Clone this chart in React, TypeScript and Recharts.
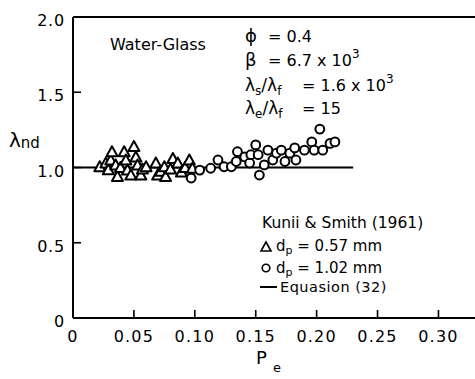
import React from 'react';
import { ScatterChart, Scatter, XAxis, YAxis, ReferenceLine } from 'recharts';

// d_p = 0.57 mm (triangles)
const triX = [0.022, 0.027, 0.029, 0.031, 0.032, 0.035, 0.0365, 0.039, 0.042, 0.0434, 0.0447, 0.0475, 0.05, 0.0516, 0.053, 0.0557, 0.057, 0.06, 0.068, 0.0695, 0.072, 0.075, 0.076, 0.08, 0.082, 0.086, 0.089, 0.092, 0.0955, 0.098];
const triY = [1.005, 1.03, 0.985, 1.05, 1.105, 1.017, 0.94, 1.0, 1.105, 1.05, 0.983, 0.95, 1.14, 1.07, 1.017, 0.95, 0.99, 1.005, 1.03, 0.95, 0.975, 1.005, 0.94, 0.99, 1.06, 1.03, 0.97, 1.0, 1.05, 0.995];

// d_p = 1.02 mm (circles)
const circX = [0.097, 0.104, 0.113, 0.119, 0.124, 0.13, 0.134, 0.135, 0.141, 0.145, 0.146, 0.15, 0.152, 0.153, 0.157, 0.16, 0.164, 0.167, 0.171, 0.174, 0.178, 0.182, 0.183, 0.19, 0.196, 0.198, 0.2026, 0.205, 0.211, 0.215];
const circY = [0.93, 0.983, 0.995, 1.05, 1.005, 1.005, 1.04, 1.105, 1.07, 1.03, 1.085, 1.15, 1.085, 0.95, 1.017, 1.115, 1.05, 1.095, 1.115, 1.04, 1.095, 1.13, 1.05, 1.115, 1.17, 1.115, 1.255, 1.115, 1.16, 1.17];

// Equation (32)
const eqX = [0, 0.23];
const eqY = [1.0, 1.0];

const xTicks = [0, 0.05, 0.1, 0.15, 0.2, 0.25, 0.3];
const xTickLabels = ['0', '0.05', '0.10', '0.15', '0.20', '0.25', '0.30'];
const yTicks = [0, 0.5, 1, 1.5, 2];
const yTickLabels = ['0', '0.5', '1.0', '1.5', '2.0'];

const triData = triX.map((x, i) => ({ x, y: triY[i] }));
const circData = circX.map((x, i) => ({ x, y: circY[i] }));
const eqData = eqX.map((x, i) => ({ x, y: eqY[i] }));

const FONT = '"DejaVu Sans", sans-serif';

const Triangle = ({ cx, cy }: any) => (
  <polygon
    points={`${cx},${cy - 5.5} ${cx - 5.5},${cy + 4.5} ${cx + 5.5},${cy + 4.5}`}
    fill="#fff"
    stroke="#000"
    strokeWidth={2}
    strokeLinejoin="round"
  />
);

const Circle = ({ cx, cy }: any) => (
  <circle cx={cx} cy={cy} r={4.4} fill="#fff" stroke="#000" strokeWidth={2} />
);

const XTick = ({ x, y, payload }: any) => {
  const idx = xTicks.indexOf(payload.value);
  return (
    <g>
      {payload.value !== 0 && <line x1={x} x2={x} y1={y} y2={y - 8} stroke="#000" strokeWidth={1.6} />}
      <text x={x} y={y + 24} textAnchor="middle" fontFamily={FONT} fontSize={16} letterSpacing={1.2} fill="#000">
        {xTickLabels[idx]}
      </text>
    </g>
  );
};

const YTick = ({ x, y, payload }: any) => {
  const idx = yTicks.indexOf(payload.value);
  return (
    <g>
      {payload.value !== 0 && <line x1={x} x2={x + 8} y1={y} y2={y} stroke="#000" strokeWidth={1.6} />}
      <text x={x - 8} y={y + 9} textAnchor="end" fontFamily={FONT} fontSize={16} letterSpacing={0.8} fill="#000">
        {yTickLabels[idx]}
      </text>
    </g>
  );
};

const Overlay = () => (
  <svg width={475} height={379} style={{ position: 'absolute', left: 0, top: 0, pointerEvents: 'none' }} fontFamily={FONT} fill="#000">
    {/* axis titles */}
    <text x={9} y={147} fontSize={20}>λ<tspan fontSize={15} dy={1}>nd</tspan></text>
    <text x={256} y={364} fontSize={18}>P</text>
    <text x={273} y={372} fontSize={13}>e</text>

    {/* parameters */}
    <text x={110} y={50} fontSize={16}>Water-Glass</text>
    <text x={245} y={42} fontSize={18}>ϕ</text>
    <text x={268} y={42} fontSize={16}>= 0.4</text>
    <text x={245} y={66} fontSize={18}>β</text>
    <text x={268} y={66} fontSize={16}>= 6.7 x 10<tspan fontSize={12} dy={-8}>3</tspan></text>
    <text x={245} y={91} fontSize={17}>λ<tspan fontSize={12} dy={4}>s</tspan><tspan dy={-4}>/λ</tspan><tspan fontSize={12} dy={4}>f</tspan></text>
    <text x={302} y={91} fontSize={16}>= 1.6 x 10<tspan fontSize={12} dy={-8}>3</tspan></text>
    <text x={245} y={114} fontSize={17}>λ<tspan fontSize={12} dy={4}>e</tspan><tspan dy={-4}>/λ</tspan><tspan fontSize={12} dy={4}>f</tspan></text>
    <text x={302} y={114} fontSize={16}>= 15</text>

    {/* legend */}
    <text x={262} y={228} fontSize={15.5}>Kunii &amp; Smith (1961)</text>
    <polygon points="266,242 261,251 271,251" fill="#fff" stroke="#000" strokeWidth={1.6} />
    <text x={276} y={251} fontSize={15}>d<tspan fontSize={11} dy={3}>p</tspan><tspan dy={-3}> = 0.57 mm</tspan></text>
    <circle cx={266} cy={268} r={3.8} fill="#fff" stroke="#000" strokeWidth={1.6} />
    <text x={276} y={273} fontSize={15}>d<tspan fontSize={11} dy={3}>p</tspan><tspan dy={-3}> = 1.02 mm</tspan></text>
    <line x1={260} x2={277} y1={287} y2={287} stroke="#000" strokeWidth={2} />
    <text x={280} y={292} fontSize={14.5} letterSpacing={0.5}>Equasion (32)</text>
  </svg>
);

const App: React.FC = () => {
  return (
    <div style={{ position: 'absolute', left: 0, top: 0, width: 475, height: 379, background: '#fff' }}>
      <ScatterChart width={475} height={379} margin={{ top: 17, right: 0, left: 0, bottom: 0 }}>
        <XAxis
          type="number"
          dataKey="x"
          domain={[0, 0.33]}
          ticks={xTicks}
          allowDataOverflow
          height={61}
          tickSize={0}
          tickMargin={0}
          tickLine={false}
          axisLine={{ stroke: '#000', strokeWidth: 2 }}
          tick={<XTick />}
        />
        <YAxis
          type="number"
          dataKey="y"
          domain={[0, 2]}
          ticks={yTicks}
          width={73}
          tickSize={0}
          tickMargin={0}
          tickLine={false}
          axisLine={{ stroke: '#000', strokeWidth: 2 }}
          tick={<YTick />}
        />
        <ReferenceLine y={2} stroke="#000" strokeWidth={2} />
        <Scatter data={eqData} line={{ stroke: '#000', strokeWidth: 2 }} shape={() => <g />} isAnimationActive={false} />
        <Scatter data={triData} shape={<Triangle />} isAnimationActive={false} />
        <Scatter data={circData} shape={<Circle />} isAnimationActive={false} />
      </ScatterChart>
      <Overlay />
    </div>
  );
};

export default App;
